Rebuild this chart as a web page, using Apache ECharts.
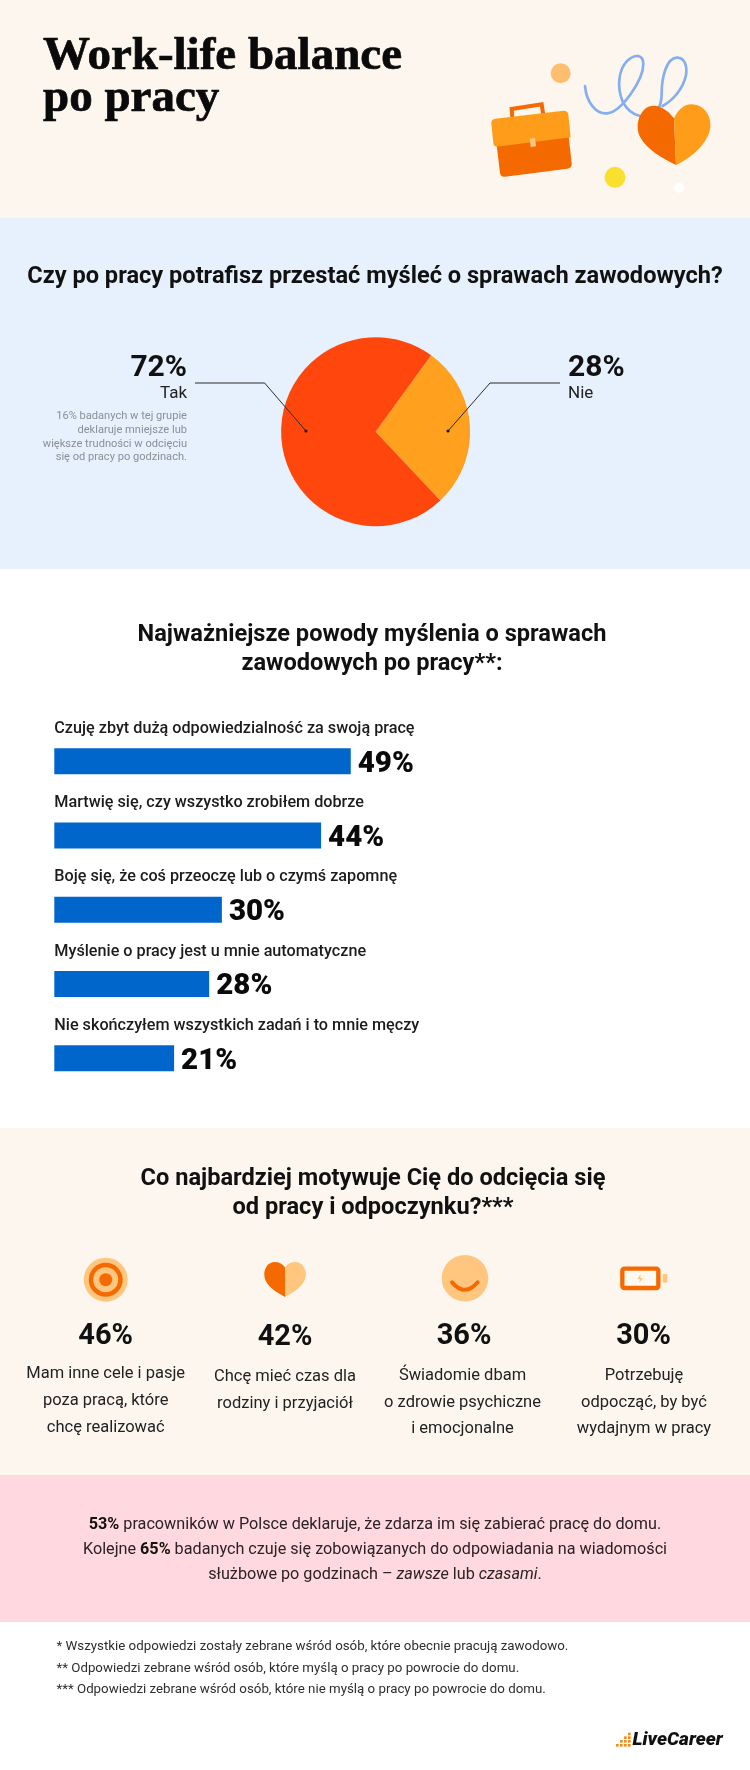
<!DOCTYPE html>
<html lang="pl">
<head>
<meta charset="utf-8">
<title>Work-life balance po pracy</title>
<script src="https://cdn.jsdelivr.net/npm/echarts@6/dist/echarts.min.js"></script>
<style>
  html, body { margin: 0; padding: 0; background: #fff; }
  #chart { width: 750px; height: 1770px; }
</style>
</head>
<body>
<div id="chart"></div>
<script>
// pie
const pieNames = ['Nie', 'Tak'];
const pieValues = [28, 72];
const pieColors = ['#FFA01E', '#FF470D'];

// bars: printed labels, and the lengths as drawn in the picture (not quite proportional there)
const barCategories = [
  'Czuję zbyt dużą odpowiedzialność za swoją pracę',
  'Martwię się, czy wszystko zrobiłem dobrze',
  'Boję się, że coś przeoczę lub o czymś zapomnę',
  'Myślenie o pracy jest u mnie automatyczne',
  'Nie skończyłem wszystkich zadań i to mnie męczy'
];
const barLabels = [49, 44, 30, 28, 21];
const barLengths = [49, 44.1, 27.7, 25.6, 19.8];

// motivation columns
const motivationValues = [46, 42, 36, 30];
const motivationTexts = [
  ['Mam inne cele i pasje', 'poza pracą, które', 'chcę realizować'],
  ['Chcę mieć czas dla', 'rodziny i przyjaciół'],
  ['Świadomie dbam', 'o zdrowie psychiczne', 'i emocjonalne'],
  ['Potrzebuję', 'odpocząć, by być', 'wydajnym w pracy']
];

const footnotes = [
  '* Wszystkie odpowiedzi zostały zebrane wśród osób, które obecnie pracują zawodowo.',
  '** Odpowiedzi zebrane wśród osób, które myślą o pracy po powrocie do domu.',
  '*** Odpowiedzi zebrane wśród osób, które nie myślą o pracy po powrocie do domu.'
];

const ORANGE = '#F56A00';
const AMBER = '#FF9C1A';
const LIGHT = '#FFC680';
const sans = 'Roboto';

const txt = (text, x, y, size, weight, color, align, font) => ({
  type: 'text',
  z: 10,
  style: {
    text: text, x: x, y: y,
    font: weight + ' ' + size + 'px ' + (font || sans),
    fill: color || '#111',
    align: align || 'left',
    verticalAlign: 'middle'
  }
});

// the headline font is heavier than Liberation Serif Bold
const headline = (text, y) => {
  const el = txt(text, 43, y, 47, 'bold', '#0a0a0a', 'left', '"Liberation Serif"');
  el.style.stroke = '#0a0a0a';
  el.style.lineWidth = 0.7;
  return el;
};

const band = (y, h, color) => ({
  type: 'rect', z: -10,
  shape: { x: 0, y: y, width: 750, height: h },
  style: { fill: color }
});

const dot = (x, y, r, color) => ({
  type: 'circle', z: 10,
  shape: { cx: x, cy: y, r: r },
  style: { fill: color }
});

// graphic has no plain path type, every svg path gets registered as a shape
let pathCount = 0;
const path = (d, style) => {
  const name = 'artPath' + (pathCount++);
  echarts.graphic.registerShape(name, echarts.graphic.extendPath(d, {}));
  return { type: name, z: 10, style: style };
};

// leader from the label to a dot inside the slice
const leader = (points) => [
  { type: 'polyline', z: 20, shape: { points: points }, style: { stroke: '#2b2b2b', lineWidth: 1, fill: null } },
  Object.assign(dot(points[2][0], points[2][1], 1.6, '#1a1a1a'), { z: 20 })
];

// drawings: coordinates are at 3x, the group scales them down
const zoomed = (x, y, children) => ({
  type: 'group', x: x, y: y, scaleX: 1 / 3, scaleY: 1 / 3, z: 10, children: children
});

const headerArt = zoomed(470, 40, [
  path('M345,138 C350,190 380,224 412,220 C455,214 520,120 520,72 C520,42 495,42 472,62 C445,90 440,140 458,185 C470,208 490,224 510,228 C560,235 575,200 575,160 C575,110 590,55 620,53 C645,52 652,80 648,105 C640,145 610,180 578,198',
    { stroke: '#85AEF0', lineWidth: 8, fill: null, lineCap: 'round' }),
  // briefcase
  path('M127,232 L125,207 L215,193 L220,225', { stroke: ORANGE, lineWidth: 12, fill: '#FFF6EC' }),
  path('M78,300 L90,398 Q92,412 105,410 L292,386 Q307,384 305,370 L295,280 Z', { fill: ORANGE }),
  path('M64,250 Q63,238 76,236 L280,212 Q293,211 295,224 L302,292 L80,320 Q71,320 70,310 Z', { fill: AMBER }),
  path('M179,296 L195,294 L198,319 L182,321 Z', { fill: LIGHT }),
  // heart
  path('M612,235 C590,205 560,190 535,200 C505,215 495,260 510,290 C530,330 580,355 618,375 Z', { fill: ORANGE }),
  path('M612,235 C625,205 650,185 680,195 C715,205 732,250 715,285 C695,330 650,360 618,375 Z', { fill: AMBER })
]);

const iconTarget = [
  dot(105.7, 1279.7, 22, LIGHT),
  dot(105.7, 1279.7, 17, ORANGE),
  dot(105.7, 1279.7, 12.5, LIGHT),
  dot(105.7, 1279.7, 6.5, ORANGE)
];

const iconHeart = zoomed(60, 1250, [
  path('M675,52 C660,32 632,30 619,50 C606,72 615,95 630,110 C645,124 660,132 675,141 Z', { fill: ORANGE }),
  path('M675,52 C690,32 718,30 731,50 C745,72 735,95 720,110 C705,124 690,132 675,141 Z', { fill: LIGHT })
]);

const iconSmile = [
  dot(465, 1278.3, 23.3, LIGHT),
  zoomed(420, 1250, [
    path('M96,97 Q135,142 173,97', { stroke: ORANGE, lineWidth: 12, fill: null, lineCap: 'round' })
  ])
];

const iconBattery = zoomed(420, 1250, [
  { type: 'rect', z: 10, shape: { x: 607, y: 56, width: 108, height: 58, r: 6 }, style: { stroke: ORANGE, lineWidth: 13, fill: '#FFF9F3' } },
  { type: 'rect', z: 10, shape: { x: 728, y: 72, width: 14, height: 26, r: 4 }, style: { fill: LIGHT } },
  path('M662,72 L652,88 L660,88 L657,100 L669,84 L661,84 Z', { fill: LIGHT })
]);

const logoSteps = [[108, 102], [120, 102], [132, 102], [144, 102], [120, 90], [132, 90], [144, 90], [132, 79], [144, 79], [144, 68]];
const logo = zoomed(580, 1710, logoSteps.map((p) => (
  { type: 'rect', z: 10, shape: { x: p[0], y: p[1], width: 8, height: 8 }, style: { fill: '#F58A1F' } }
)));

const sectionFont = 23.6;
const noteColor = '#8b8f96';

const elements = [
  band(0, 218, '#FDF6EF'),
  band(218, 351, '#E6F1FD'),
  band(1128, 347, '#FDF6EF'),
  band(1475, 147, '#FFD9DF'),

  headline('Work-life balance', 56.5),
  headline('po pracy', 98.5),
  dot(560.7, 73.3, 10, '#FFBE6E'),
  dot(615, 177.3, 10.5, '#F9E02E'),
  dot(679, 187.7, 5, '#FFFFFF'),
  headerArt,

  txt('Czy po pracy potrafisz przestać myśleć o sprawach zawodowych?', 375, 277, sectionFont, 'bold', '#111', 'center'),
  txt(pieValues[1] + '%', 187, 368, 30, 'bold', '#111', 'right'),
  txt(pieNames[1], 187, 394, 17, 'normal', '#222', 'right'),
  txt('16% badanych w tej grupie', 187, 416.5, 11.1, 'normal', noteColor, 'right'),
  txt('deklaruje mniejsze lub', 187, 430, 11.1, 'normal', noteColor, 'right'),
  txt('większe trudności w odcięciu', 187, 444, 11.1, 'normal', noteColor, 'right'),
  txt('się od pracy po godzinach.', 187, 457.5, 11.1, 'normal', noteColor, 'right'),
  txt(pieValues[0] + '%', 568, 368, 30, 'bold', '#111', 'left'),
  txt(pieNames[0], 568, 394, 17, 'normal', '#222', 'left'),
  ...leader([[195, 383], [264.6, 383], [306, 431]]),
  ...leader([[560, 383], [490, 383], [448, 431]]),

  txt('Najważniejsze powody myślenia o sprawach', 372, 635, sectionFont, 'bold', '#111', 'center'),
  txt('zawodowych po pracy**:', 372, 664, sectionFont, 'bold', '#111', 'center'),

  txt('Co najbardziej motywuje Cię do odcięcia się', 373, 1179, sectionFont, 'bold', '#111', 'center'),
  txt('od pracy i odpoczynku?***', 373, 1208, sectionFont, 'bold', '#111', 'center'),
  ...iconTarget,
  iconHeart,
  ...iconSmile,
  iconBattery,

  {
    type: 'text', z: 10,
    style: {
      x: 375, y: 1550, align: 'center', verticalAlign: 'middle',
      text: '{b|53%} pracowników w Polsce deklaruje, że zdarza im się zabierać pracę do domu.\n'
        + 'Kolejne {b|65%} badanych czuje się zobowiązanych do odpowiadania na wiadomości\n'
        + 'służbowe po godzinach – {i|zawsze} lub {i|czasami}.',
      font: '16.2px ' + sans, fill: '#2a2226', lineHeight: 24.6,
      rich: {
        b: { fontWeight: 'bold', fontFamily: sans, fontSize: 16.2, lineHeight: 24.6, fill: '#111' },
        i: { fontStyle: 'italic', fontFamily: sans, fontSize: 16.2, lineHeight: 24.6 }
      }
    }
  },

  txt(footnotes[0], 56.5, 1647, 13.3, 'normal', '#2e2e2e'),
  txt(footnotes[1], 56.5, 1668.3, 13.3, 'normal', '#2e2e2e'),
  txt(footnotes[2], 56.5, 1689.3, 13.3, 'normal', '#2e2e2e'),

  logo,
  txt('LiveCareer', 632.5, 1740.5, 19, 'italic 900', '#111')
];

const columnPctX = [105.7, 285, 464, 643.5];
const columnTextX = [105.7, 285, 462.5, 644];
const columnPctY = [1337, 1338, 1337, 1337];
const columnLineY = [[1374, 1401, 1428], [1377, 1404], [1376, 1403, 1429], [1376, 1403, 1429]];
motivationValues.forEach((v, i) => {
  elements.push(txt(v + '%', columnPctX[i], columnPctY[i], 29, 'bold', '#111', 'center'));
  motivationTexts[i].forEach((line, j) => {
    elements.push(txt(line, columnTextX[i], columnLineY[i][j], 16.5, 'normal', '#222', 'center'));
  });
});

const chart = echarts.init(document.getElementById('chart'));
chart.setOption({
  animation: false,
  backgroundColor: '#fff',
  graphic: { elements: elements },
  grid: { left: 54.3, top: 724.2, width: 363, height: 371.25, containLabel: false },
  xAxis: { type: 'value', min: 0, max: 60, show: false },
  yAxis: {
    type: 'category',
    inverse: true,
    data: barCategories,
    z: 5,
    axisLine: { show: false },
    axisTick: { show: false },
    splitLine: { show: false },
    axisLabel: {
      inside: true,
      interval: 0,
      margin: 0,
      align: 'left',
      verticalAlign: 'middle',
      // blank second line lifts the name above its bar
      formatter: '{name|{value}}\n{gap| }',
      rich: {
        name: { fontFamily: sans, fontWeight: 500, fontSize: 16.2, lineHeight: 20, color: '#1c1c1c' },
        gap: { fontSize: 1, lineHeight: 65 }
      }
    }
  },
  series: [
    {
      type: 'pie',
      silent: true,
      center: [375.6, 431.7],
      radius: [0, 94.5],
      startAngle: 54,
      color: pieColors,
      label: { show: false },
      labelLine: { show: false },
      data: pieNames.map((name, i) => ({ name: name, value: pieValues[i] }))
    },
    {
      type: 'bar',
      silent: true,
      barWidth: 26,
      data: barLengths,
      itemStyle: { color: '#0066CC' },
      label: {
        show: true,
        position: 'right',
        distance: 7,
        offset: [0, 3],
        fontFamily: sans,
        fontWeight: 900,
        fontSize: 29.5,
        color: '#0a0a0a',
        formatter: (p) => barLabels[p.dataIndex] + '%'
      }
    }
  ]
});
</script>
</body>
</html>
